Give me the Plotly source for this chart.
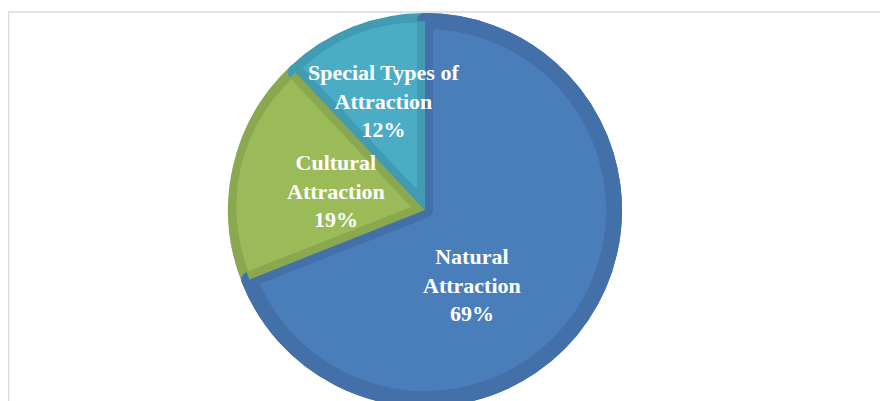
import math
import plotly.graph_objects as go

categories = ["Natural Attraction", "Cultural Attraction", "Special Types of Attraction"]
values = [69, 19, 12]
label_lines = ["Natural<br>Attraction", "Cultural<br>Attraction", "Special Types of<br>Attraction"]

fill_colors = ["#4A7EBB", "#9BBB59", "#4BACC6"]
edge_colors = ["#4370A8", "#8AA84F", "#409BB3"]
CLEAR = "rgba(0,0,0,0)"

# page body adds an 8px offset; work in figure-local pixels
OFF = 8
W, H = 888 - OFF, 401 - OFF
cx, cy, R = 425 - OFF, 210 - OFF, 197
bw = 8  # bevel border width
total = sum(values)


def domain_for(px, py, rad):
    return dict(x=[(px - rad) / W, (px + rad) / W], y=[(H - py - rad) / H, (H - py + rad) / H])


common = dict(labels=categories, sort=False, direction="clockwise", textinfo="none",
              showlegend=False, hoverinfo="skip")

fig = go.Figure()
# 1) full pie in border (dark) colours; stroke reaches the outer radius R
fig.add_trace(go.Pie(values=values, rotation=0,
                     marker=dict(colors=edge_colors, line=dict(color=edge_colors, width=2 * bw)),
                     domain=domain_for(cx, cy, R - bw), **common))
# 2) main slice face with its own border stroke
fig.add_trace(go.Pie(values=values, rotation=0,
                     marker=dict(colors=[fill_colors[0], CLEAR, CLEAR],
                                 line=dict(color=[edge_colors[0], CLEAR, CLEAR], width=[2 * bw, 0, 0])),
                     domain=domain_for(cx, cy, R - bw), **common))
# 3) restore the dark border colour of the smaller slices
fig.add_trace(go.Pie(values=values, rotation=0,
                     marker=dict(colors=[CLEAR, edge_colors[1], edge_colors[2]], line=dict(width=0)),
                     domain=domain_for(cx, cy, R - bw), **common))
# 4) inset faces of the smaller slices
start = 0.0
starts = []
for v in values:
    starts.append(start)
    start += 360.0 * v / total
for i in (1, 2):
    span = 360.0 * values[i] / total
    beta = math.radians(starts[i] + span / 2)
    d = bw / math.sin(math.radians(span / 2))
    ax, ay = cx + d * math.sin(beta), cy - d * math.cos(beta)
    rho = R - bw - d
    fig.add_trace(go.Pie(values=[values[i], total - values[i]], labels=[categories[i], "rest"],
                         sort=False, direction="clockwise", textinfo="none", showlegend=False,
                         hoverinfo="skip", rotation=starts[i],
                         marker=dict(colors=[fill_colors[i], CLEAR], line=dict(width=0)),
                         domain=domain_for(ax, ay, rho)))

# label anchor positions (screen pixels)
label_pos = [(472, 285), (336, 191), (383, 101)]
for txt, v, (lx, ly) in zip(label_lines, values, label_pos):
    fig.add_annotation(
        x=(lx - OFF) / W, y=(H - (ly - OFF)) / H, xref="paper", yref="paper",
        text=f"<b>{txt}<br>{round(100 * v / total)}%</b>",
        showarrow=False, align="center",
        font=dict(family="Liberation Serif", size=22, color="white"),
        xanchor="center", yanchor="middle",
    )

# chart frame (top and left edges visible)
fy = (H - (12 - OFF)) / H
fig.add_shape(type="line", xref="paper", yref="paper",
              x0=0.5 / W, x1=1.0, y0=fy, y1=fy,
              line=dict(color="#D9D9D9", width=1.5))
fig.add_shape(type="line", xref="paper", yref="paper",
              x0=0.5 / W, x1=0.5 / W, y0=0, y1=fy,
              line=dict(color="#D9D9D9", width=1.5))

fig.update_layout(
    width=W, height=H,
    margin=dict(l=0, r=0, t=0, b=0),
    paper_bgcolor="white",
    plot_bgcolor="white",
)

fig.write_html("out.html")
